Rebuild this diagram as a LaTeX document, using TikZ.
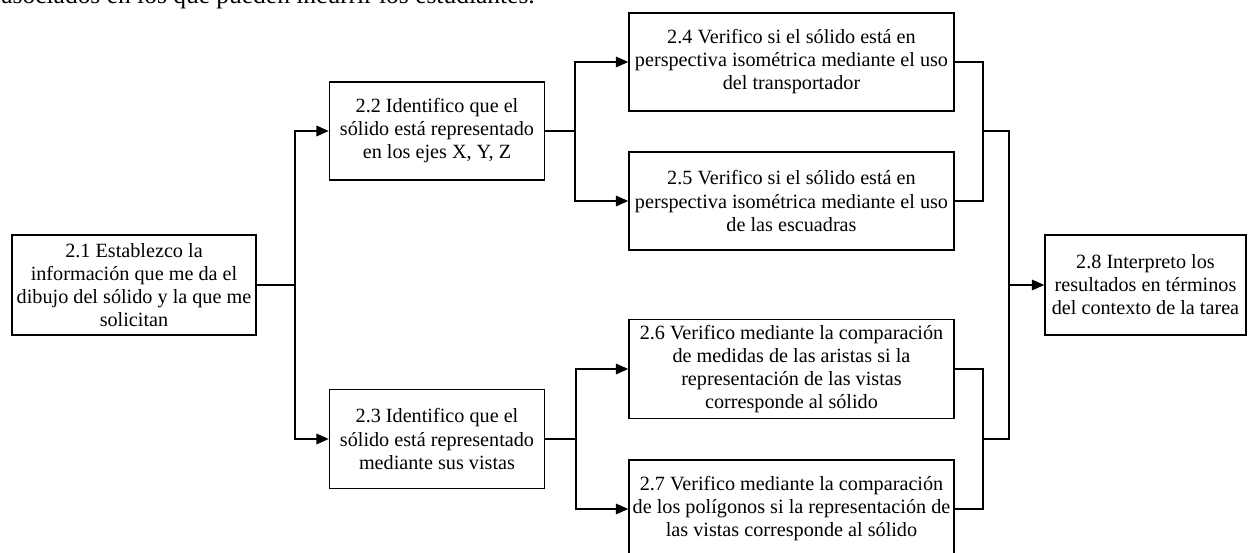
\documentclass[tikz,border=0pt]{standalone}
\usepackage{fontspec}
\setmainfont{Liberation Serif}
\usetikzlibrary{arrows.meta}
\tikzset{
  box/.style={draw=black, line width=0.9pt, inner sep=0pt, align=center,
    font=\fontsize{11.5}{13.1}\selectfont},
  conn/.style={line width=0.9pt, line join=miter},
  arr/.style={conn, -{Triangle[length=7pt,width=6pt]}}
}
\begin{document}
\begin{tikzpicture}[x=0.02cm, y=-0.02cm]
\useasboundingbox (0,0) rectangle (1248,553);
\clip (0,0) rectangle (1248,553);
\node[anchor=base west, inner sep=0pt, font=\fontsize{14.5}{17}\selectfont] (title) at (1,4)
  {asociados en los que pueden incurrir los estudiantes.};

\node[box, minimum width=4.88cm, minimum height=2cm] (n21) at (134,285)
  {2.1 Establezco la\\información que me da el\\dibujo del sólido y la que me\\solicitan};
\node[box, minimum width=4.3cm, minimum height=1.96cm] (n22) at (437,131)
  {2.2 Identifico que el\\sólido está representado\\en los ejes X, Y, Z};
\node[box, minimum width=4.3cm, minimum height=1.98cm] (n23) at (437,439)
  {2.3 Identifico que el\\sólido está representado\\mediante sus vistas};
\node[box, minimum width=6.5cm, minimum height=1.96cm] (n24) at (791.5,62)
  {2.4 Verifico si el sólido está en\\perspectiva isométrica mediante el uso\\del transportador};
\node[box, minimum width=6.5cm, minimum height=1.96cm] (n25) at (791.5,201)
  {2.5 Verifico si el sólido está en\\perspectiva isométrica mediante el uso\\de las escuadras};
\node[box, minimum width=6.5cm, minimum height=1.98cm] (n26) at (791.5,369)
  {2.6 Verifico mediante la comparación\\de medidas de las aristas si la\\representación de las vistas\\corresponde al sólido};
\node[box, minimum width=6.5cm, minimum height=1.96cm] (n27) at (791.5,509)
  {2.7 Verifico mediante la comparación\\de los polígonos si la representación de\\las vistas corresponde al sólido};
\node[box, minimum width=4.02cm, minimum height=2cm] (n28) at (1145.5,285)
  {2.8 Interpreto los\\resultados en términos\\del contexto de la tarea};

% splits
\draw[arr] (n21.east) -- ++(38,0) |- (n22.west);
\draw[arr] (n21.east) -- ++(38,0) |- (n23.west);
\draw[arr] (n22.east) -- ++(30,0) |- (n24.west);
\draw[arr] (n22.east) -- ++(30,0) |- (n25.west);
\draw[arr] (n23.east) -- ++(31,0) |- (n26.west);
\draw[arr] (n23.east) -- ++(31,0) |- (n27.west);

% merges
\coordinate (j1) at (983,131);
\coordinate (j2) at (983,439);
\coordinate (k1) at (1009,131);
\coordinate (k2) at (1009,439);
\coordinate (k) at (1009,285);
\draw[conn] (n24.east) -| (j1);
\draw[conn] (n25.east) -| (j1);
\draw[conn] (n26.east) -| (j2);
\draw[conn] (n27.east) -| (j2);
\draw[conn] (j1) -- (k1) -- (k2) -- (j2);
\draw[arr] (k) -- (n28.west);
\end{tikzpicture}
\end{document}
